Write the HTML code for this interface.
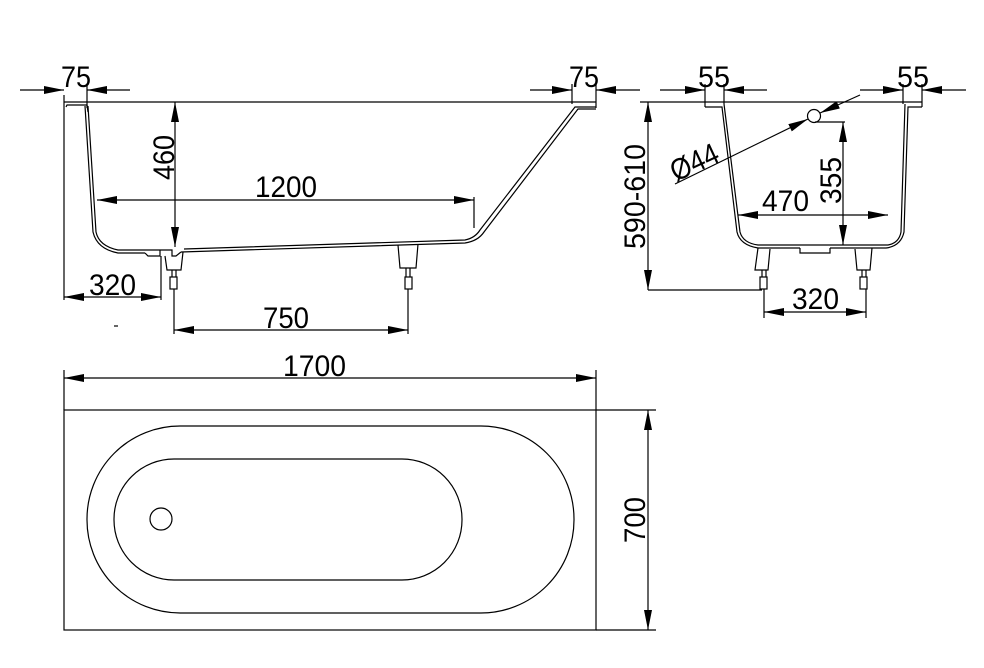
<!DOCTYPE html>
<html><head><meta charset="utf-8"><style>
html,body{margin:0;padding:0;background:#fff;}
svg{display:block;}
text{font-family:"Liberation Sans",sans-serif;font-size:30px;fill:#000;}
</style></head><body>
<svg width="984" height="668" viewBox="0 0 984 668" xmlns="http://www.w3.org/2000/svg">
<defs>
<marker id="a" viewBox="0 0 20 8" refX="20" refY="4" markerWidth="20" markerHeight="8" markerUnits="userSpaceOnUse" orient="auto-start-reverse"><path d="M0,0 L20,4 L0,8 Z" fill="#000"/></marker>
</defs>
<g stroke="#000" stroke-width="1.2" fill="none">
<line x1="64" y1="102" x2="596" y2="102"/>
<line x1="64" y1="95" x2="64" y2="300"/>
<line x1="87" y1="84" x2="87" y2="108"/>
<line x1="20" y1="90" x2="64" y2="90" marker-end="url(#a)"/>
<line x1="130" y1="90" x2="87" y2="90" marker-end="url(#a)"/>
<line x1="572" y1="84" x2="572" y2="104"/>
<line x1="596" y1="84" x2="596" y2="108"/>
<line x1="530" y1="90" x2="572" y2="90" marker-end="url(#a)"/>
<line x1="640" y1="90" x2="596" y2="90" marker-end="url(#a)"/>
<path d="M66,107 L67,105 L87,105 L88,112"/>
<path d="M88,106 L96,232 Q99,246 118,250 L160,250"/>
<path d="M85,106 L93,232 Q97,249 118,253 L145,253"/>
<path d="M184,249 L465,240 Q475,238 480,230 L575,107 L596,107"/>
<path d="M181,252 L465,243 Q478,241 484,232 L578,109 L596,109"/>
<path d="M145,253 L148,256 L160,256 L160,250 M160,250 L172,250 L172,256 L176,256 L181,252"/>
<path d="M165,256 L167,270 L181,270 L183,252"/>
<line x1="172" y1="270" x2="172" y2="277"/><line x1="176" y1="270" x2="176" y2="277"/>
<rect x="170" y="277" width="7" height="12"/>
<path d="M398,245 L400,268 L416,268 L418,244"/>
<line x1="406" y1="268" x2="406" y2="277"/><line x1="410" y1="268" x2="410" y2="277"/>
<rect x="405" y="277" width="7" height="12"/>
<line x1="175" y1="102" x2="175" y2="247" marker-start="url(#a)" marker-end="url(#a)"/>
<line x1="97" y1="200" x2="474" y2="200" marker-start="url(#a)" marker-end="url(#a)"/>
<line x1="474" y1="197" x2="474" y2="228"/>
<line x1="64" y1="297" x2="161" y2="297" marker-start="url(#a)" marker-end="url(#a)"/>
<line x1="161" y1="256" x2="161" y2="300"/>
<line x1="174" y1="289" x2="174" y2="334"/>
<line x1="408" y1="289" x2="408" y2="334"/>
<line x1="174" y1="330" x2="408" y2="330" marker-start="url(#a)" marker-end="url(#a)"/>
<line x1="114" y1="326" x2="118" y2="326"/>

<line x1="640" y1="102" x2="922" y2="102"/>
<line x1="660" y1="90" x2="705" y2="90" marker-end="url(#a)"/>
<line x1="767" y1="90" x2="724" y2="90" marker-end="url(#a)"/>
<line x1="705" y1="84" x2="705" y2="107"/>
<line x1="724" y1="84" x2="724" y2="104"/>
<line x1="860" y1="90" x2="903" y2="90" marker-end="url(#a)"/>
<line x1="966" y1="90" x2="922" y2="90" marker-end="url(#a)"/>
<line x1="903" y1="84" x2="903" y2="104"/>
<line x1="922" y1="84" x2="922" y2="107"/>
<path d="M705,107 L722,107 L737,232 Q740,245 758,248 L800,248"/>
<path d="M724,104 L740,232 Q743,243 758,245 L888,245 Q899,243 901,232 L905,104"/>
<path d="M922,107 L908,107 L904,232 Q901,246 886,248 L830,248"/>
<path d="M800,248 L800,253 L830,253 L830,248"/>
<path d="M758,248 L755,270 L768,270 L770,249"/>
<path d="M855,249 L857,270 L870,270 L872,248"/>
<rect x="760" y="277" width="7" height="12"/><line x1="762" y1="270" x2="762" y2="277"/><line x1="766" y1="270" x2="766" y2="277"/>
<rect x="860" y="277" width="7" height="12"/><line x1="862" y1="270" x2="862" y2="277"/><line x1="866" y1="270" x2="866" y2="277"/>
<line x1="648" y1="102" x2="648" y2="290" marker-start="url(#a)" marker-end="url(#a)"/>
<line x1="648" y1="290" x2="762" y2="290"/>
<line x1="764" y1="289" x2="764" y2="318"/>
<line x1="866" y1="289" x2="866" y2="318"/>
<line x1="764" y1="312" x2="866" y2="312" marker-start="url(#a)" marker-end="url(#a)"/>
<circle cx="814" cy="116" r="6.5"/>
<line x1="675" y1="184" x2="808" y2="119" marker-end="url(#a)"/>
<line x1="860" y1="95" x2="820" y2="113" marker-end="url(#a)"/>
<line x1="815" y1="122" x2="845" y2="122"/>
<line x1="843" y1="122" x2="843" y2="245" marker-start="url(#a)" marker-end="url(#a)"/>
<line x1="738" y1="215" x2="888" y2="215" marker-start="url(#a)" marker-end="url(#a)"/>

<line x1="64" y1="370" x2="64" y2="410"/>
<line x1="596" y1="370" x2="596" y2="410"/>
<line x1="64" y1="378" x2="596" y2="378" marker-start="url(#a)" marker-end="url(#a)"/>
<rect x="64" y="410" width="532" height="220"/>
<rect x="87" y="426" width="487" height="187" rx="93" ry="93"/>
<rect x="114" y="459" width="348" height="121" rx="60" ry="60"/>
<circle cx="161" cy="519" r="11"/>
<line x1="596" y1="410" x2="656" y2="410"/>
<line x1="596" y1="630" x2="656" y2="630"/>
<line x1="648" y1="410" x2="648" y2="630" marker-start="url(#a)" marker-end="url(#a)"/>
</g>
<g>
<text x="61" y="87" textLength="30" lengthAdjust="spacingAndGlyphs">75</text>
<text x="569" y="87" textLength="30" lengthAdjust="spacingAndGlyphs">75</text>
<text x="255" y="197" textLength="62" lengthAdjust="spacingAndGlyphs">1200</text>
<text x="89" y="295" textLength="47" lengthAdjust="spacingAndGlyphs">320</text>
<text x="263" y="328" textLength="46" lengthAdjust="spacingAndGlyphs">750</text>
<text transform="translate(174,180) rotate(-90)" textLength="45" lengthAdjust="spacingAndGlyphs">460</text>
<text x="698" y="87" textLength="32" lengthAdjust="spacingAndGlyphs">55</text>
<text x="897" y="87" textLength="32" lengthAdjust="spacingAndGlyphs">55</text>
<text x="762" y="211" textLength="47" lengthAdjust="spacingAndGlyphs">470</text>
<text x="792" y="309" textLength="47" lengthAdjust="spacingAndGlyphs">320</text>
<text transform="translate(841,204) rotate(-90)" textLength="47" lengthAdjust="spacingAndGlyphs">355</text>
<text transform="translate(645,249) rotate(-90)" textLength="105" lengthAdjust="spacingAndGlyphs">590-610</text>
<text transform="translate(676,182) rotate(-25)" textLength="50" lengthAdjust="spacingAndGlyphs">Ø44</text>
<text x="283" y="376" textLength="63" lengthAdjust="spacingAndGlyphs">1700</text>
<text transform="translate(645,543) rotate(-90)" textLength="46" lengthAdjust="spacingAndGlyphs">700</text>
</g>
</svg>
</body></html>
